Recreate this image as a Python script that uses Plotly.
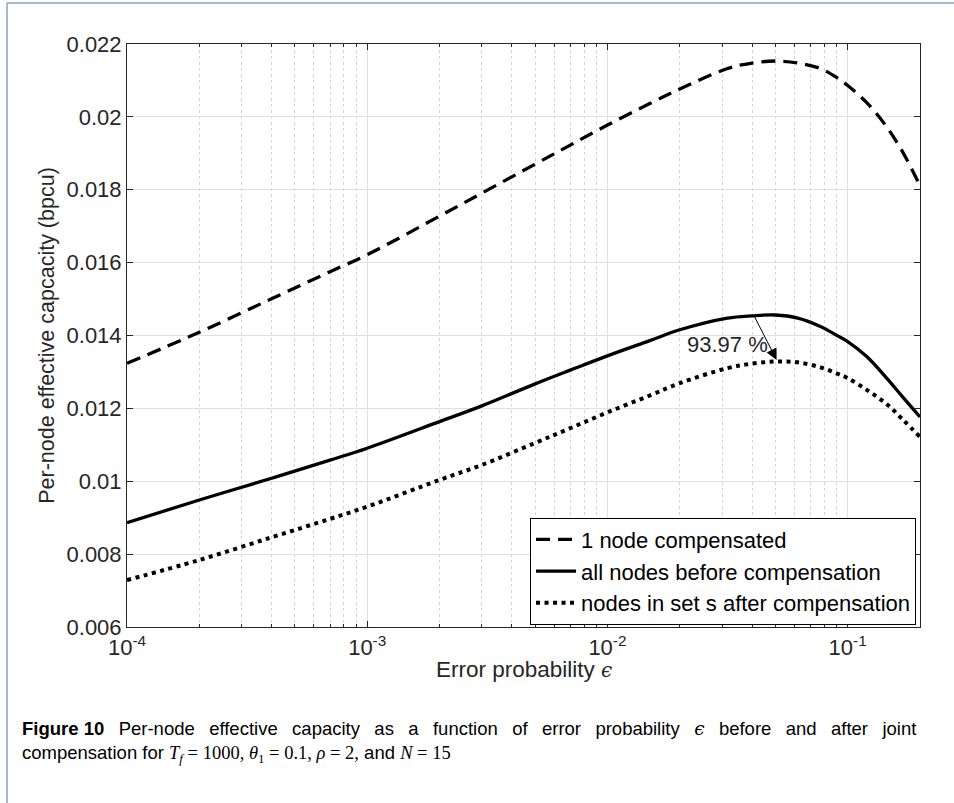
import numpy as np
import plotly.graph_objects as go

# ---- data ----
eps = [1e-4, 2e-4, 4e-4, 7e-4, 1e-3, 2e-3, 3e-3, 5e-3, 7e-3, 1e-2, 1.5e-2,
       2e-2, 3.16e-2, 4e-2, 5e-2, 6.2e-2, 7.7e-2, 9e-2, 1e-1, 1.2e-1,
       1.45e-1, 1.7e-1, 2e-1]
one_node = [0.013236, 0.014088, 0.015008, 0.015750, 0.016217, 0.017275, 0.017907,
            0.018703, 0.019225, 0.019775, 0.020365, 0.020764, 0.021327, 0.021478,
            0.021533, 0.021478, 0.021327, 0.021080, 0.020860, 0.020393, 0.019734,
            0.019019, 0.018113]
all_before = [0.008863, 0.009486, 0.010082, 0.010580, 0.010907, 0.011637, 0.012069,
              0.012673, 0.013050, 0.013442, 0.013860, 0.014157, 0.014478, 0.014541,
              0.014563, 0.014478, 0.014247, 0.014005, 0.013835, 0.013423, 0.012838,
              0.012302, 0.011766]
set_after = [0.007288, 0.007838, 0.008462, 0.008967, 0.009302, 0.010036, 0.010448,
             0.011052, 0.011456, 0.011890, 0.012354, 0.012692, 0.013104, 0.013228,
             0.013286, 0.013264, 0.013126, 0.012962, 0.012830, 0.012508, 0.012124,
             0.011684, 0.011217]
series_names = ["1 node compensated", "all nodes before compensation",
                "nodes in set s after compensation"]
x_tickvals = [1e-4, 1e-3, 1e-2, 1e-1]
x_ticktext = ["10<sup>-4</sup>", "10<sup>-3</sup>", "10<sup>-2</sup>", "10<sup>-1</sup>"]
y_tickvals = [0.006, 0.008, 0.010, 0.012, 0.014, 0.016, 0.018, 0.020, 0.022]
y_ticktext = ["0.006", "0.008", "0.01", "0.012", "0.014", "0.016", "0.018", "0.02", "0.022"]
annot_text = "93.97 %"
arrow_tail = (0.0407, 0.01455)
arrow_head = (0.0506, 0.01333)
annot_pos = (0.0316, 0.01374)

FONT = "Liberation Sans, Arial, sans-serif"
W, H = 954, 803
L, R, T, B = 127, 34, 44, 176
pw, ph = W - L - R, H - T - B


def px_x(px):
    return (px - L) / pw


def px_y(py):
    return (H - B - py) / ph


fig = go.Figure()
styles = [dict(dash="14px,8px", width=3.3),
          dict(dash="solid", width=3.3),
          dict(dash="4px,4.5px", width=4)]
for name, ys, st in zip(series_names, [one_node, all_before, set_after], styles):
    fig.add_trace(go.Scatter(x=eps, y=ys, mode="lines", name=name,
                             line=dict(color="black", shape="spline",
                                       smoothing=1.0, **st)))

# arrow
fig.add_annotation(x=np.log10(arrow_head[0]), y=arrow_head[1],
                   ax=np.log10(arrow_tail[0]), ay=arrow_tail[1],
                   axref="x", ayref="y", xref="x", yref="y",
                   text="", showarrow=True, arrowhead=2, arrowsize=2.2,
                   arrowwidth=1, arrowcolor="black", standoff=0)
fig.add_annotation(x=np.log10(annot_pos[0]), y=annot_pos[1], xref="x", yref="y",
                   text=annot_text, showarrow=False,
                   font=dict(family=FONT, size=22, color="#262626"))

# x-axis title as annotation (for exact placement)
fig.add_annotation(xref="paper", yref="paper", x=0.5, y=px_y(669),
                   xanchor="center", yanchor="middle", showarrow=False,
                   text="Error probability <span style='font-family:DejaVu Serif;font-size:20px'><i>ϵ</i></span>",
                   font=dict(family=FONT, size=22.5, color="#262626"))

# caption (first line justified with extra en-spaces)
G = "\u2002 "
words1 = ["Per-node", "effective", "capacity", "as", "a", "function", "of", "error",
          "probability", "<span style='font-family:DejaVu Serif'><i>ϵ</i></span>",
          "before", "and", "after", "joint"]
line1 = "<b>Figure 10</b>" + G + G.join(words1)
line2 = ("compensation for <span style='font-family:Liberation Serif'><i>T</i><sub><i>f</i></sub>"
         " = 1000, <i>θ</i><sub>1</sub> = 0.1, <i>ρ</i> = 2,</span> and "
         "<span style='font-family:Liberation Serif'><i>N</i> = 15</span>")
fig.add_annotation(xref="paper", yref="paper",
                   x=px_x(20), y=px_y(716),
                   xanchor="left", yanchor="top", align="left",
                   text=line1 + "<br>" + line2, showarrow=False,
                   font=dict(family=FONT, size=18.5, color="black"))

# page frame (left and top thin lines)
frame_col = "#8aa2bd"
fig.add_shape(type="line", xref="paper", yref="paper",
              x0=px_x(7), x1=px_x(7), y0=px_y(H + 5), y1=px_y(3),
              line=dict(color=frame_col, width=1.5))
fig.add_shape(type="line", xref="paper", yref="paper",
              x0=px_x(7), x1=px_x(W + 5), y0=px_y(3), y1=px_y(3),
              line=dict(color=frame_col, width=1.5))

axis_common = dict(showline=True, linecolor="#262626", linewidth=1, mirror="allticks",
                   ticks="inside", ticklen=6, tickcolor="#262626",
                   tickfont=dict(family=FONT, size=22, color="#262626"),
                   zeroline=False, gridcolor="#e0e0e0", gridwidth=1)

fig.update_xaxes(type="log", range=[np.log10(1e-4), np.log10(0.2)],
                 tickvals=x_tickvals, ticktext=x_ticktext, ticklabelstandoff=1,
                 minor=dict(ticks="inside", ticklen=3, tickcolor="#262626",
                            showgrid=True, gridcolor="#d4d4d4", griddash="dot",
                            gridwidth=1, dtick="D1"),
                 **axis_common)
fig.update_yaxes(range=[0.006, 0.022], tickvals=y_tickvals, ticktext=y_ticktext,
                 title=dict(text="Per-node effective capcacity (bpcu)",
                            font=dict(family=FONT, size=21.5, color="#262626"), standoff=6),
                 **axis_common)

fig.update_layout(width=W, height=H, autosize=False,
                  margin=dict(l=L, r=R, t=T, b=B, pad=0),
                  paper_bgcolor="white", plot_bgcolor="white",
                  showlegend=True,
                  legend=dict(x=0.995, y=0.004, xanchor="right", yanchor="bottom",
                              bgcolor="white", bordercolor="black", borderwidth=1,
                              font=dict(family=FONT, size=22, color="black"),
                              tracegroupgap=0, itemwidth=40),
                  font=dict(family=FONT))

fig.write_html("out.html")
